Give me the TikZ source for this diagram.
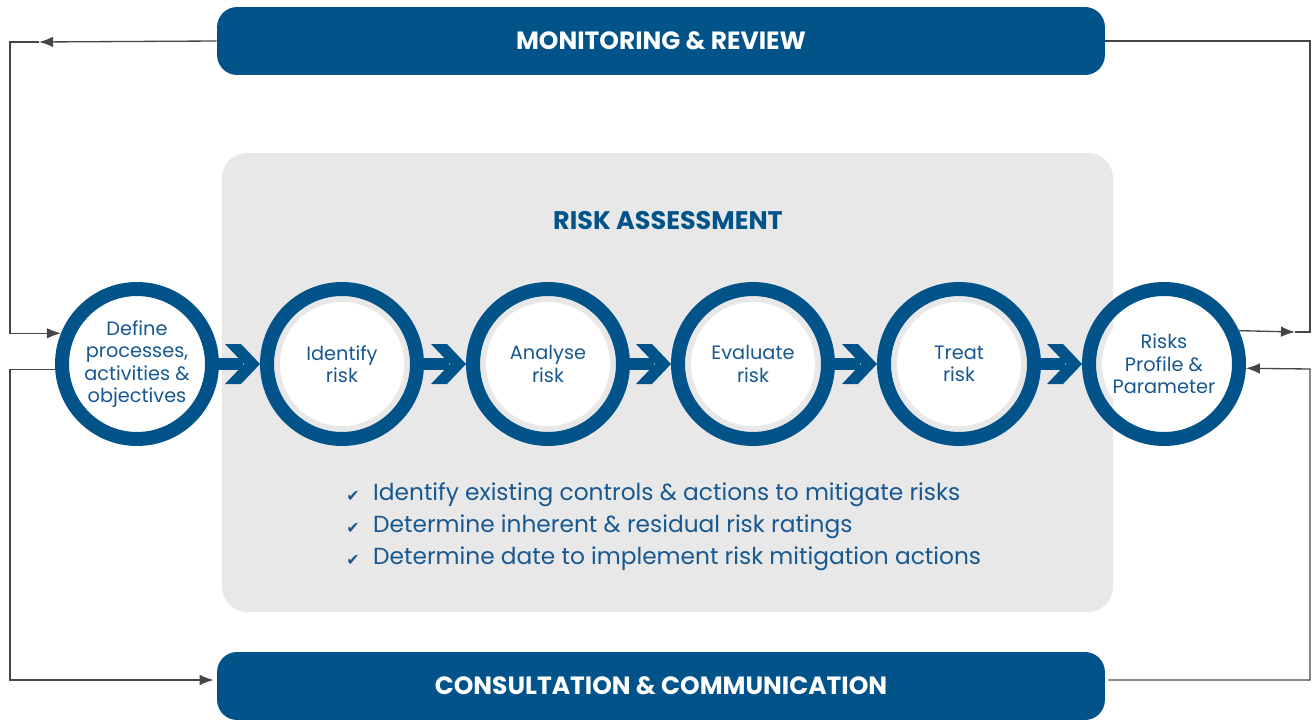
\documentclass[tikz,border=0pt]{standalone}
\usepackage{fontspec}
\setmainfont{Poppins}
\newfontfamily\symfont{DejaVu Sans}
\usetikzlibrary{arrows.meta,calc}
\definecolor{riskBlue}{RGB}{2,83,138}
\definecolor{riskText}{RGB}{24,88,145}
\definecolor{riskGrey}{RGB}{232,232,232}
\definecolor{riskLine}{RGB}{70,70,70}

% chevron arrow from one step circle to the next
\newcommand{\riskchev}[2]{%
  \fill[riskBlue] ($(#1.east)+(-2,-6)$) rectangle ($(#2.west)+(-17,6)$);
  \fill[riskBlue] ($(#2.west)+(-35,-20)$) -- ++(16,0) -- (#2.west) -- ++(-19,20)
    -- ++(-16,0) -- ++(19,-20) -- cycle;}

\begin{document}
\begin{tikzpicture}[x=0.02cm, y=-0.02cm,
    bar/.style={rectangle, rounded corners=0.4cm, fill=riskBlue, text=white,
                minimum width=17.76cm, minimum height=1.36cm,
                font=\fontsize{14.2}{17}\selectfont\bfseries},
    ring/.style={circle, draw=riskBlue, line width=0.28cm, minimum size=3cm, inner sep=0pt,
                 text=riskText, align=center, font=\fontsize{11}{12.8}\selectfont,
                 path picture={\fill[white] (path picture bounding box.center) circle (1.24cm);}},
    bullet/.style={anchor=west, text=riskText, font=\fontsize{13.25}{16}\selectfont},
    tick/.style={text=riskText, font=\symfont\fontsize{9}{10}\selectfont},
    conn/.style={draw=riskLine, line width=0.75pt},
    arr/.style={conn, -{Latex[length=8pt,width=6pt]}}
  ]
  \useasboundingbox (0,0) rectangle (1313,720);

  % grey assessment panel
  \fill[riskGrey, rounded corners=0.5cm] (222,153) rectangle (1113,612);
  \node[text=riskBlue, font=\fontsize{14.5}{17}\selectfont\bfseries] (ra) at (668,221) {RISK ASSESSMENT};

  % bars
  \node[bar] (mon)  at (661,41)  {MONITORING \& REVIEW};
  \node[bar] (cons) at (661,686) {CONSULTATION \& COMMUNICATION};

  % process steps
  \node[ring] (def) at (137,364)  {Define\\processes,\\activities \&\\objectives};
  \node[ring] (ide) at (342,364)  {Identify\\risk};
  \node[ring] (ana) at (548,364)  {Analyse\\risk};
  \node[ring] (eva) at (753,364)  {Evaluate\\risk};
  \node[ring] (tre) at (959,364)  {Treat\\risk};
  \node[ring] (pro) at (1164,364) {Risks\\Profile \&\\Parameter};

  \foreach \a/\b in {def/ide,ide/ana,ana/eva,eva/tre,tre/pro}
    {\riskchev{\a}{\b}}

  % checklist
  \foreach \txt [count=\i] in {Identify existing controls \& actions to mitigate risks,
      Determine inherent \& residual risk ratings,
      Determine date to implement risk mitigation actions} {
    \node[bullet] (b\i) at (367,463+32*\i) {\txt};
    \node[tick] (t\i) at (353,465+32*\i) {✔};
  }

  % feedback loops
  \coordinate (la) at (39,42);
  \coordinate (lc) at (10,42);
  \coordinate (lb) at (10,680);
  \coordinate (rta) at (1295,332);
  \coordinate (rtc) at (1310,332);
  \coordinate (rb) at (1310,369);

  \draw[arr] (mon.west) -- (la);
  \draw[arr] (la) -- (lc) |- (def.158);
  \draw[arr] (def.184) -| (lb) -- ($(cons.west)+(-3,-6)$);
  \draw[arr] (pro.24) -- (rta);
  \draw[conn] (rta) -- (rtc) |- (mon.east);
  \draw[arr] ($(cons.east)+(3,-6)$) -| (rb) -- (pro.357);
\end{tikzpicture}
\end{document}
